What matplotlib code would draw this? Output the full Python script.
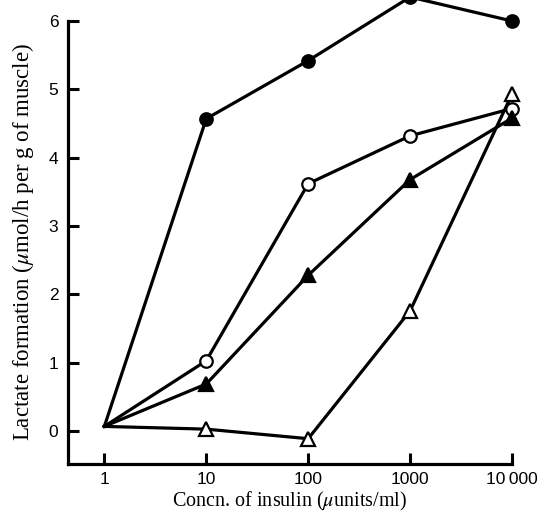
import matplotlib
matplotlib.use("Agg")
import matplotlib.pyplot as plt
from matplotlib.ticker import FixedLocator, NullLocator

plt.rcParams['mathtext.fontset'] = 'stix'

conc = [1, 10, 100, 1000, 10000]
filled_circle = [0.07, 4.57, 5.42, 6.35, 6.0]
open_circle = [0.07, 1.03, 3.62, 4.32, 4.72]
filled_triangle = [0.07, 0.69, 2.28, 3.68, 4.58]
open_triangle = [0.07, 0.03, -0.11, 1.76, 4.93]

xticks = [1, 10, 100, 1000, 10000]
xticklabels = ["1", "10", "100", "1000", "10\u2009000"]
yticks = [0, 1, 2, 3, 4, 5, 6]

fig = plt.figure(figsize=(5.41, 5.13), dpi=100)
ax = fig.add_axes([68/541, 1-464/513, (512-68)/541, (464-21)/513])

lw = 2.3
ms = 9
marks = [1, 2, 3, 4]
common = dict(color='black', lw=lw, clip_on=False, zorder=3, markeredgewidth=1.6, markevery=marks)
ax.plot(conc, filled_circle, marker='o', ms=ms, mfc='black', mec='black', **common)
ax.plot(conc, open_circle, marker='o', ms=ms, mfc='white', mec='black', **common)
ax.plot(conc, filled_triangle, marker='^', ms=ms+1, mfc='black', mec='black', **common)
ax.plot(conc, open_triangle, marker='^', ms=ms+1, mfc='white', mec='black', **common)

tickfont = dict(fontfamily=['Liberation Sans', 'DejaVu Sans'], fontsize=12.5, fontweight='medium')
ax.set_xscale('log')
ax.set_xlim(0.44, 10000)
ax.set_ylim(-0.48, 6.0)
ax.xaxis.set_major_locator(FixedLocator(xticks))
ax.xaxis.set_minor_locator(NullLocator())
ax.set_xticklabels(xticklabels, **tickfont)
ax.set_yticks(yticks)
ax.set_yticklabels([str(v) for v in yticks], **tickfont)
ax.tick_params(axis='x', direction='in', length=8, width=2.2, pad=6)
ax.tick_params(axis='y', direction='in', length=8, width=2.2, pad=7)

for s in ['top', 'right']:
    ax.spines[s].set_visible(False)
for s in ['left', 'bottom']:
    ax.spines[s].set_linewidth(2.3)

ax.set_xlabel(r"Concn. of insulin ($\mu$units/ml)", fontfamily='Liberation Serif', fontsize=14.5)
ax.xaxis.set_label_coords(0.5, -0.059)
ax.set_ylabel(r"Lactate formation ($\mu$mol/h per g of muscle)", fontfamily='Liberation Serif', fontsize=16.5, labelpad=9)

fig.savefig("out.png", dpi=100)
